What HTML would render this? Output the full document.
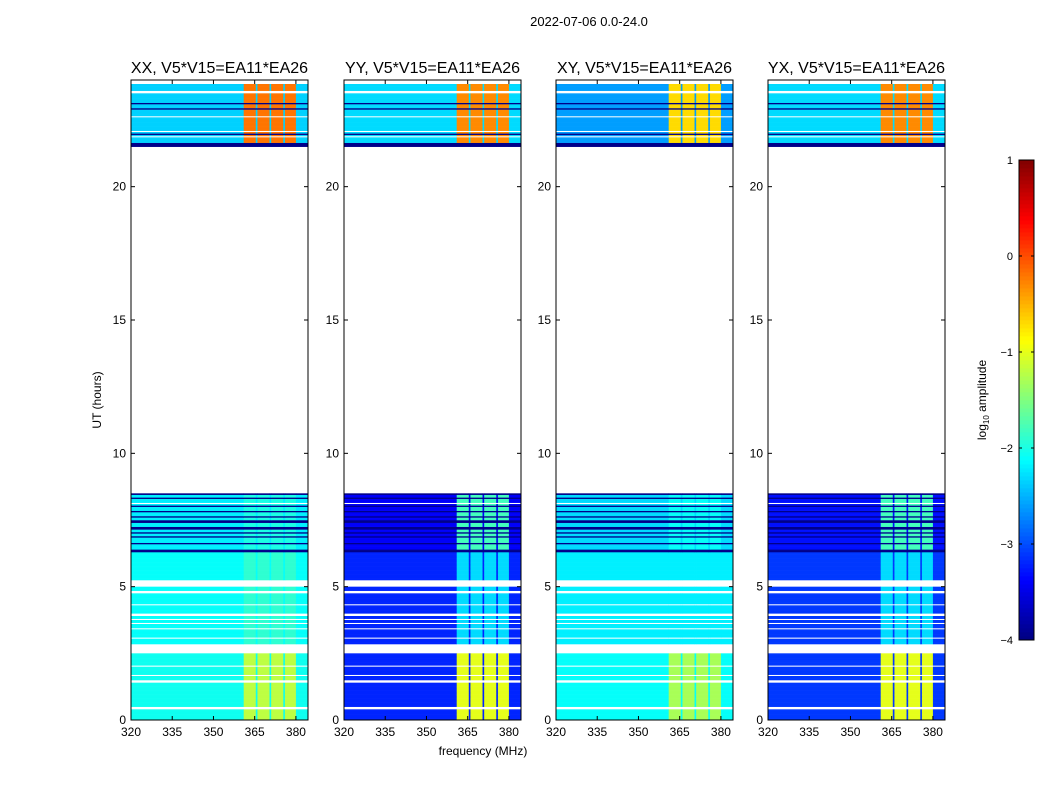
<!DOCTYPE html>
<html><head><meta charset="utf-8"><style>
body{margin:0;background:#fff;font-family:"Liberation Sans",sans-serif}
svg text{font-family:"Liberation Sans",sans-serif;fill:#000}
</style></head><body>
<svg id="fig" width="1050" height="800" xmlns="http://www.w3.org/2000/svg">
<rect width="1050" height="800" fill="#fff"/>
<text x="589" y="26" font-size="13" text-anchor="middle">2022-07-06 0.0-24.0</text>
<text x="0" y="0" font-size="12" text-anchor="middle" transform="translate(101,400) rotate(-90)">UT (hours)</text>
<text x="483" y="755" font-size="12" text-anchor="middle">frequency (MHz)</text>
<g id="panels"></g>
<g id="cbar"></g>
<text font-size="12" text-anchor="middle" transform="translate(986,400) rotate(-90)">log<tspan font-size="8" dy="3">10</tspan><tspan dy="-3"> amplitude</tspan></text>
</svg>
<script>
const panelTitles=["XX, V5*V15=EA11*EA26","YY, V5*V15=EA11*EA26","XY, V5*V15=EA11*EA26","YX, V5*V15=EA11*EA26"];
const xTicks=[320,335,350,365,380];
const yTicks=[0,5,10,15,20];
const cbTicks=[1,0,-1,-2,-3,-4];
// periods: 0: 0-2.5h, 1: 2.85-6.3h, 2: 6.3-8.5h, 3: 21.5-24h
const periods=[[0,2.5],[2.85,6.3],[6.3,8.5],[21.5,24]];
const bgLevel=[[-2.05,-2.1,-2.2,-2.35],[-3.2,-3.2,-3.4,-2.3],[-2.1,-2.2,-2.3,-2.6],[-3.1,-3.1,-3.3,-2.3]];
const rfiLevel=[[-1.2,-1.9,-2.0,-0.2],[-1.0,-2.3,-1.8,-0.3],[-1.3,-2.2,-2.1,-0.7],[-1.0,-2.3,-1.8,-0.3]];
const rfiBands=[[361,365.4],[366,370.4],[371,375.4],[376,380]];
const flagRows=[[0.4,0.46],[1.4,1.5],[1.62,1.67],[2.0,2.05],[2.5,2.85],[3.05,3.1],[3.4,3.45],[3.6,3.65],[3.75,3.8],[3.88,4.0],[4.3,4.35],[4.75,4.82],[5.0,5.25],[8.1,8.14],[21.85,21.9],[22.05,22.1],[22.6,22.65],[23.5,23.56],[23.85,24]];
const darkRows=[[6.3,6.36],[6.6,6.65],[6.85,6.9],[7.0,7.05],[7.15,7.25],[7.4,7.5],[7.6,7.65],[7.8,7.85],[8.0,8.05],[8.3,8.35],[8.44,8.5],[21.5,21.62],[21.95,22.0],[22.9,22.95],[23.1,23.15]];
const NS="http://www.w3.org/2000/svg";
function jet(v){let t=(v+4)/5;t=Math.max(0,Math.min(1,t));
 const r=Math.max(0,Math.min(1,1.5-Math.abs(4*t-3))),g=Math.max(0,Math.min(1,1.5-Math.abs(4*t-2))),b=Math.max(0,Math.min(1,1.5-Math.abs(4*t-1)));
 return `rgb(${Math.round(r*255)},${Math.round(g*255)},${Math.round(b*255)})`;}
function el(tag,attrs,parent){const e=document.createElementNS(NS,tag);for(const k in attrs)e.setAttribute(k,attrs[k]);parent.appendChild(e);return e;}
const PX=[131,344,556,768],PW=177,PT=80,PH=640,FMIN=320,FMAX=384.4,TMAX=24;
const root=document.getElementById('panels');
function inRows(t,rows){return rows.some(r=>t>=r[0]-1e-9&&t<r[1]-1e-9);}
for(let p=0;p<4;p++){
 const x0=PX[p];
 const xs=f=>x0+(f-FMIN)/(FMAX-FMIN)*PW;
 const ys=t=>PT+PH-(t/TMAX)*PH;
 const g=el('g',{},root);
 
 
 const fsegs=[];let cur=FMIN;
 rfiBands.forEach(b=>{fsegs.push([cur,b[0],0]);fsegs.push([b[0],b[1],1]);cur=b[1];});
 fsegs.push([cur,FMAX,0]);
 periods.forEach((per,pi)=>{
  const step=0.05;
  for(let t=per[0];t<per[1]-1e-9;t+=step){
   const t1=Math.min(per[1],t+step);
   if(inRows(t,flagRows))continue;
   const dark=inRows(t,darkRows);
   fsegs.forEach(fs=>{
    const v=dark?-3.95:(fs[2]?rfiLevel[p][pi]:bgLevel[p][pi]);
    const r=el('rect',{x:xs(fs[0]).toFixed(2),y:ys(t1).toFixed(2),width:(xs(fs[1])-xs(fs[0])+0.3).toFixed(2),height:(ys(t)-ys(t1)+0.3).toFixed(2),fill:jet(v)},g);
    
    
   });
  }
 });
 el('rect',{x:x0,y:PT,width:PW,height:PH,fill:'none',stroke:'#000','stroke-width':1},g);
 const tt=el('text',{x:x0+PW/2,y:PT-7,'font-size':16,'text-anchor':'middle'},g);tt.textContent=panelTitles[p];
 
 xTicks.forEach(f=>{const x=xs(f);
  el('line',{x1:x,x2:x,y1:PT+PH,y2:PT+PH-4,stroke:'#000'},g);
  el('line',{x1:x,x2:x,y1:PT,y2:PT+4,stroke:'#000'},g);
  const l=el('text',{x:x,y:PT+PH+16,'font-size':12,'text-anchor':'middle'},g);l.textContent=f;
  });
 yTicks.forEach(tv=>{const y=ys(tv);
  el('line',{x1:x0,x2:x0+4,y1:y,y2:y,stroke:'#000'},g);
  el('line',{x1:x0+PW,x2:x0+PW-4,y1:y,y2:y,stroke:'#000'},g);
  const l=el('text',{x:x0-5,y:y+4,'font-size':12,'text-anchor':'end'},g);l.textContent=tv;
  });
}
const cb=document.getElementById('cbar');const CX=1019,CW=15,CT=160,CH=480;
const cy=v=>CT+(1-v)/5*CH;
for(let i=0;i<120;i++){const v0=-4+i*5/120;el('rect',{x:CX,y:cy(v0+5/120).toFixed(2),width:CW,height:(CH/120+0.4).toFixed(2),fill:jet(v0+2.5/120)},cb);}
el('rect',{x:CX,y:CT,width:CW,height:CH,fill:'none',stroke:'#000'},cb);
cbTicks.forEach(v=>{const y=cy(v);
 el('line',{x1:CX,x2:CX+3,y1:y,y2:y,stroke:'#000'},cb);
 el('line',{x1:CX+CW,x2:CX+CW-3,y1:y,y2:y,stroke:'#000'},cb);
 const l=el('text',{x:CX-6,y:y+4,'font-size':11,'text-anchor':'end'},cb);l.textContent=v<0?'\u2212'+(-v):v;
 });
</script>
</body></html>
